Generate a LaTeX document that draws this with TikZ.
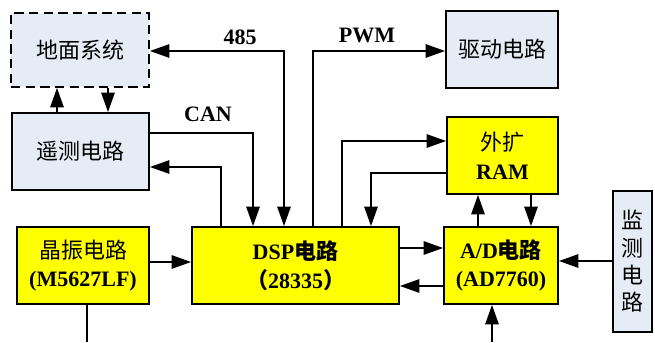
\documentclass[tikz,border=0pt]{standalone}
\usepackage{fontspec}
\setmainfont{Liberation Serif}
\newfontfamily\cjk{Noto Sans CJK SC}
\usetikzlibrary{arrows.meta}
\definecolor{lb}{HTML}{E6ECF6}
\definecolor{yl}{HTML}{FFFF00}
\tikzset{
  box/.style={draw=black, line width=1.4pt, inner sep=0pt, align=center,
    font=\fontsize{16.5}{21.5}\selectfont},
  blue/.style={box, fill=lb},
  yel/.style={box, fill=yl},
  tip/.tip={Triangle[length=14.5pt,width=10pt]},
  arr/.style={line width=1.2pt, -tip},
  arrb/.style={line width=1.2pt, tip-tip},
  ln/.style={line width=1.2pt},
  lab/.style={font=\fontsize{16.5}{20}\selectfont\bfseries}
}
\begin{document}
\begin{tikzpicture}[x=0.75pt,y=-0.75pt]
\useasboundingbox (0,0) rectangle (655,342);
% boxes
\node[blue, dash pattern=on 7pt off 4pt, minimum width=138*0.75pt, minimum height=74*0.75pt] (gs) at (80,50) {\cjk 地面系统};
\node[blue, minimum width=137*0.75pt, minimum height=77*0.75pt] (yc) at (80.5,151.5) {\cjk 遥测电路};
\node[blue, minimum width=112*0.75pt, minimum height=77*0.75pt] (qd) at (502,49.5) {\cjk 驱动电路};
\node[yel, minimum width=111*0.75pt, minimum height=77*0.75pt] (ram) at (502.5,155.5) {{\cjk 外扩}\\\textbf{RAM}};
\node[yel, minimum width=132*0.75pt, minimum height=77*0.75pt] (jz) at (83,265.5) {{\cjk 晶振电路}\\\textbf{(M5627LF)}};
\node[yel, minimum width=207*0.75pt, minimum height=77*0.75pt] (dsp) at (295.5,265.5) {\textbf{DSP}{\cjk\bfseries 电路}\\{\cjk\bfseries （}\textbf{28335}{\cjk\bfseries ）}};
\node[yel, minimum width=114*0.75pt, minimum height=77*0.75pt] (ad) at (501,265.5) {\textbf{A/D}{\cjk\bfseries 电路}\\\textbf{(AD7760)}};
\node[blue, minimum width=39*0.75pt, minimum height=141*0.75pt, font=\fontsize{16.5}{20.5}\selectfont\cjk] (jc) at (632.5,261.5) {监\\测\\电\\路};
% free ends
\coordinate (jzb) at (87,342);
\coordinate (adb) at (492,342);
% connectors
\draw[arr] (yc.north -| 57,0) -- (gs.south -| 57,0);
\draw[arr] (gs.south -| 108,0) -- (yc.north -| 108,0);
\draw[arrb] (gs.east |- 0,51) -| (dsp.north -| 284,0);
\draw[arr] (yc.east |- 0,133) -| (dsp.north -| 253,0);
\draw[arr] (dsp.north -| 221,0) |- (yc.east |- 0,167);
\draw[arr] (dsp.north -| 313,0) |- (qd.west |- 0,51);
\draw[arr] (dsp.north -| 342,0) |- (ram.west |- 0,141);
\draw[arr] (ram.west |- 0,173) -| (dsp.north -| 371,0);
\draw[arr] (jz.east |- 0,262) -- (dsp.west |- 0,262);
\draw[arr] (dsp.east |- 0,248) -- (ad.west |- 0,248);
\draw[arr] (ad.west |- 0,286) -- (dsp.east |- 0,286);
\draw[arr] (ad.north -| 478,0) -- (ram.south -| 478,0);
\draw[arr] (ram.south -| 531,0) -- (ad.north -| 531,0);
\draw[arr] (jc.west |- 0,261) -- (ad.east |- 0,261);
\draw[ln] (jz.south -| 87,0) -- (jzb);
\draw[arr] (adb) -- (ad.south -| 492,0);
% labels
\node[lab] (l485) at (240,37) {485};
\node[lab] (lcan) at (208,114) {CAN};
\node[lab] (lpwm) at (367,35) {PWM};
\end{tikzpicture}
\end{document}
